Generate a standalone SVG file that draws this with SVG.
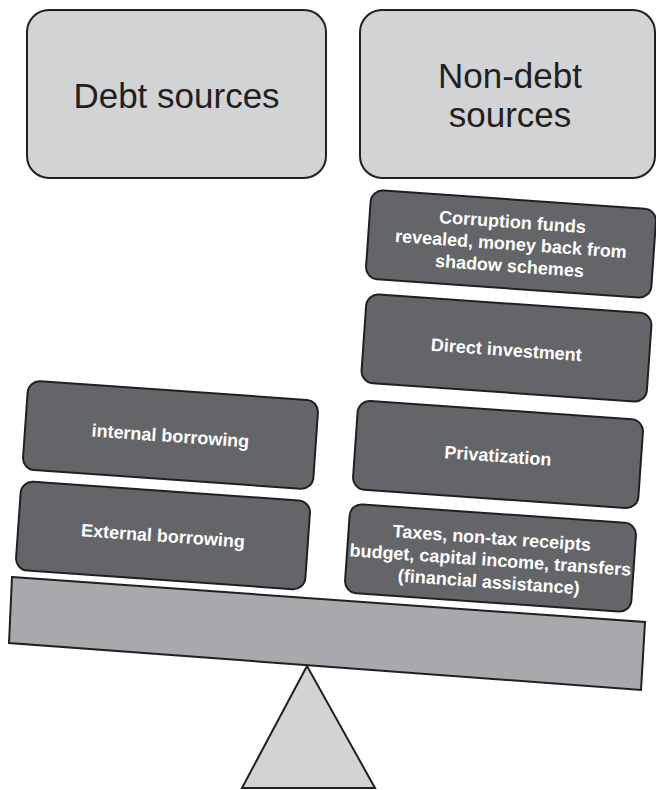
<svg xmlns="http://www.w3.org/2000/svg" width="656" height="790" viewBox="0 0 656 790">
<style>
.top{fill:#d1d3d4;stroke:#231f20;stroke-width:2}
.dark{fill:#646568;stroke:#231f20;stroke-width:2}
.beam{fill:#a7a9ac;stroke:#231f20;stroke-width:2}
.tri{fill:#d1d3d4;stroke:#231f20;stroke-width:2}
.big{font-family:"Liberation Sans",Arial,sans-serif;font-size:35px;fill:#231f20;text-anchor:middle}
.lbl{font-family:"Liberation Sans",Arial,sans-serif;font-size:18px;font-weight:bold;fill:#ffffff;text-anchor:middle}
</style>
<rect width="656" height="790" fill="#ffffff"/>
<g id="support">
<polygon class="beam" points="12,577 645,622 641,690 9,643"/>
<polygon class="tri" points="307,666 242,788 375,788"/>
</g>
<g id="debt-sources">
<rect class="top" x="27" y="10" width="299" height="168" rx="22"/>
<text class="big" x="176.5" y="108">Debt sources</text>
</g>
<g id="non-debt-sources">
<rect class="top" x="360" y="10" width="295" height="168" rx="22"/>
<text class="big" x="510" y="88">Non-debt</text>
<text class="big" x="510" y="127">sources</text>
</g>
<g id="corruption" transform="rotate(4 511 244)">
<rect class="dark" x="368" y="199.5" width="286" height="89" rx="12"/>
<text class="lbl" x="511" y="228">Corruption funds</text>
<text class="lbl" x="511" y="250">revealed, money back from</text>
<text class="lbl" x="511" y="272">shadow schemes</text>
</g>
<g id="direct-investment" transform="rotate(4 506.5 348)">
<rect class="dark" x="363.5" y="303.5" width="286" height="89" rx="12"/>
<text class="lbl" x="506.5" y="356">Direct investment</text>
</g>
<g id="privatization" transform="rotate(4 498 454.5)">
<rect class="dark" x="355" y="410" width="286" height="89" rx="12"/>
<text class="lbl" x="498" y="462">Privatization</text>
</g>
<g id="taxes" transform="rotate(4 490.5 558)">
<rect class="dark" x="347" y="513.5" width="287" height="89" rx="12"/>
<text class="lbl" x="490.5" y="544">Taxes, non-tax receipts</text>
<text class="lbl" x="490.5" y="566">budget, capital income, transfers</text>
<text class="lbl" x="490.5" y="588">(financial assistance)</text>
</g>
<g id="internal-borrowing" transform="rotate(4 170.5 435)">
<rect class="dark" x="25" y="390.5" width="291" height="89" rx="12"/>
<text class="lbl" x="170.5" y="442">internal borrowing</text>
</g>
<g id="external-borrowing" transform="rotate(4 163 535.5)">
<rect class="dark" x="18" y="491" width="290" height="89" rx="12"/>
<text class="lbl" x="163" y="542">External borrowing</text>
</g>
<g id="connectors"></g>
</svg>
